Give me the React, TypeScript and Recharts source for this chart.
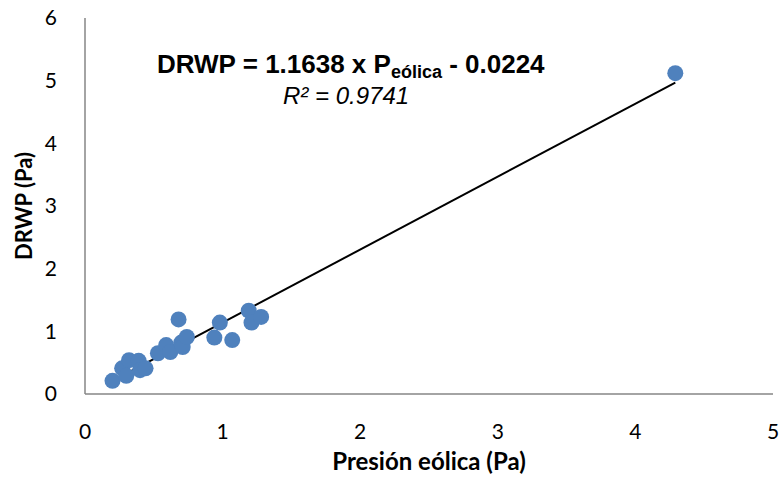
import React from 'react';
import {
  ComposedChart,
  Scatter,
  Line,
  XAxis,
  YAxis,
  Customized,
} from 'recharts';

const windPressure = [
  0.2, 0.27, 0.3, 0.32, 0.39, 0.4, 0.44, 0.53, 0.59, 0.62, 0.68, 0.7, 0.71,
  0.74, 0.94, 0.98, 1.07, 1.19, 1.21, 1.28, 4.29,
];
const drwp = [
  0.21, 0.41, 0.29, 0.54, 0.53, 0.38, 0.41, 0.65, 0.78, 0.67, 1.19, 0.82, 0.75,
  0.91, 0.9, 1.14, 0.86, 1.33, 1.14, 1.23, 5.12,
];

// Trend line ends
const trendX = [0.2, 4.29];
const trendY = [0.21, 4.97];

const xTicks = [0, 1, 2, 3, 4, 5];
const yTicks = [0, 1, 2, 3, 4, 5, 6];

const points = windPressure.map((x, i) => ({ x, y: drwp[i] }));
const trend = trendX.map((x, i) => ({ x, t: trendY[i] }));

const FONT = 'Lato, "Open Sans", sans-serif';

function Equation() {
  return (
    <g fontFamily='"Liberation Sans", Arial, sans-serif' fill="#000">
      <text x={157} y={73} fontSize={26} fontWeight="bold">
        DRWP = 1.1638 x P
        <tspan fontSize={18} dy={5}>eólica</tspan>
        <tspan dy={-5}> - 0.0224</tspan>
      </text>
      <text x={283} y={104} fontSize={24} fontStyle="italic">
        R² = 0.9741
      </text>
    </g>
  );
}

export default function App() {
  return (
    <div style={{ position: 'absolute', left: 0, top: 0, background: '#fff' }}>
      <ComposedChart
        width={784}
        height={486}
        margin={{ top: 18, right: 11, left: 0, bottom: 0 }}
      >
        <XAxis
          type="number"
          dataKey="x"
          domain={[0, 5]}
          ticks={xTicks}
          allowDataOverflow
          stroke="#868686"
          strokeWidth={1.5}
          tickLine={false}
          tickSize={0}
          tickMargin={30}
          height={92}
          tick={{ fill: '#000', fontSize: 21, fontFamily: FONT }}
          label={{
            value: 'Presión eólica (Pa)',
            position: 'insideBottom',
            offset: 16,
            fill: '#000',
            fontSize: 24,
            fontWeight: 'bold',
            fontFamily: FONT,
          }}
        />
        <YAxis
          type="number"
          domain={[0, 6]}
          ticks={yTicks}
          stroke="#868686"
          strokeWidth={1.5}
          tickLine={false}
          tickSize={0}
          tickMargin={28}
          width={85}
          tick={{ fill: '#000', fontSize: 21, fontFamily: FONT }}
          label={{
            value: 'DRWP (Pa)',
            angle: -90,
            position: 'insideLeft',
            offset: 24,
            style: { textAnchor: 'middle' },
            fill: '#000',
            fontSize: 22,
            fontWeight: 'bold',
            fontFamily: FONT,
          }}
        />
        <Scatter
          data={points}
          dataKey="y"
          fill="#4F81BD"
          shape={(p: any) => <circle cx={p.cx} cy={p.cy} r={8} fill="#4F81BD" />}
          isAnimationActive={false}
        />
        <Line
          data={trend}
          dataKey="t"
          type="linear"
          stroke="#000"
          strokeWidth={2}
          dot={false}
          activeDot={false}
          isAnimationActive={false}
        />
        <Customized component={Equation} />
      </ComposedChart>
    </div>
  );
}
